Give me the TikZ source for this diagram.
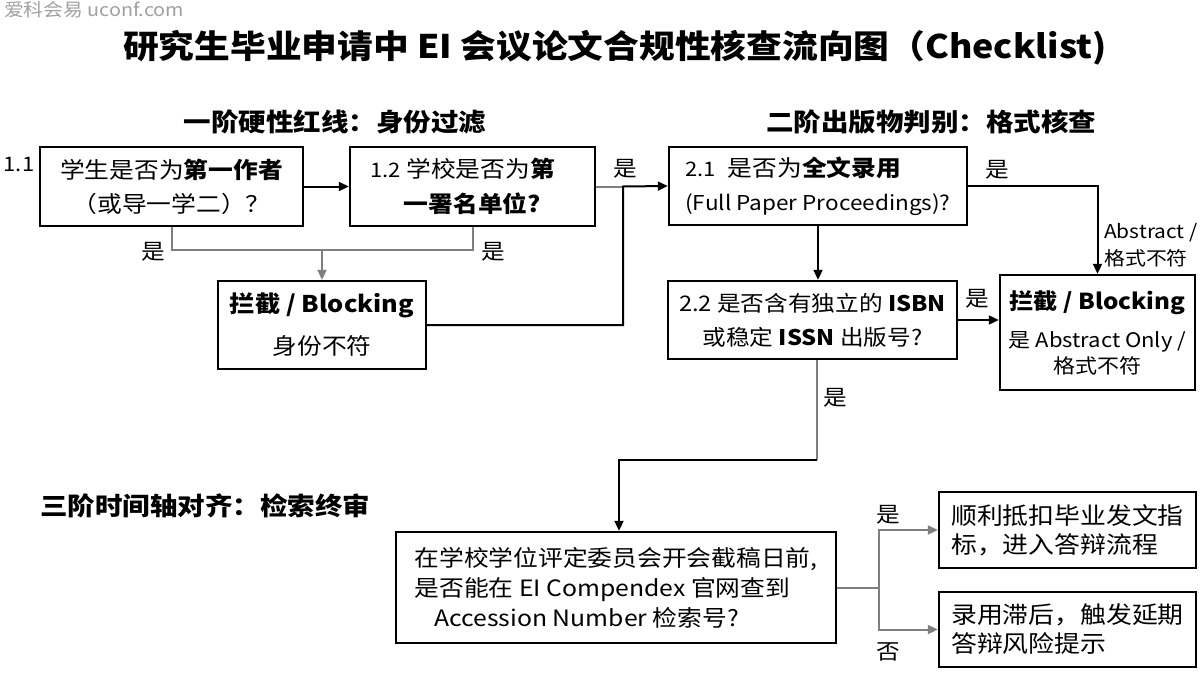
\documentclass[tikz,border=0pt]{standalone}
\usepackage{fontspec}
\setmainfont{Noto Sans CJK SC}[FakeStretch=1.1]
\usetikzlibrary{arrows.meta}
\definecolor{lg}{HTML}{7F7F7F}
\definecolor{wm}{HTML}{A0A0A0}
\newcommand\fsz[2]{\fontsize{#1}{#2}\selectfont}
\tikzset{
  box/.style={draw=black, line width=2.4pt, inner sep=0pt, align=center},
  blk/.style={line width=2pt, draw=black},
  gry/.style={line width=2pt, draw=lg},
  tip/.style={-{Triangle[length=10pt,width=9pt]}},
  lbl/.style={font=\fsz{21.5}{24}, inner sep=0pt},
  head/.style={font=\fsz{25}{28}\bfseries, inner sep=0pt},
}
\begin{document}
\begin{tikzpicture}[x=1pt, y=-1pt]
\fill[white] (0,0) rectangle (1200,680);
\useasboundingbox (0,0) rectangle (1200,680);

% watermark and title
\node[anchor=west, inner sep=0pt, text=wm, font=\fsz{18}{20}] (wmk) at (4,10) {爱科会易 uconf.com};
\node[inner sep=0pt, font=\fsz{32.5}{36}\bfseries] (title) at (615,48) {研究生毕业申请中 EI 会议论文合规性核查流向图（Checklist)};

% headings
\node[head] (h1) at (335,122) {一阶硬性红线：身份过滤};
\node[head] (h2) at (931,122) {二阶出版物判别：格式核查};
\node[head, anchor=west] (h3) at (40,506) {三阶时间轴对齐：检索终审};

% stage 1
\node[lbl, font=\fsz{20}{22}] (n11) at (19,164) {1.1};
\node[box, minimum width=263pt, minimum height=79pt, font=\fsz{22.5}{34}] (b11) at (171.5,186.5)
  {学生是否为\textbf{第一作者}\\（或导一学二）？};
\node[box, minimum width=245pt, minimum height=79pt, font=\fsz{22.5}{35}] (b12) at (472.5,186.5)
  {{\fsz{20}{35}1.2} 学校是否为\textbf{第}\hspace*{20pt}\\\textbf{一署名单位?}};
\node[box, minimum width=208pt, minimum height=88pt, font=\fsz{22.5}{42}] (k1) at (322,325)
  {{\fsz{23}{42}\textbf{拦截 / Blocking}}\\身份不符};

% stage 2
\node[box, minimum width=298pt, minimum height=78pt, font=\fsz{22.5}{34}, align=left] (b21) at (818,186)
  {{\fsz{20}{34}2.1}\hspace{12pt}是否为\textbf{全文录用}\\{\fsz{20.5}{34}(Full Paper Proceedings)?}};
\node[box, minimum width=289pt, minimum height=78pt, font=\fsz{21.5}{34}] (b22) at (812.5,320)
  {2.2 是否含有独立的 \textbf{ISBN}\\或稳定 \textbf{ISSN} 出版号?};
\node[box, minimum width=195pt, minimum height=115pt, font=\fsz{20}{26}] (k2) at (1097.5,332.5)
  {{\fsz{22}{26}\textbf{拦截 / Blocking}}\\[12pt]是 Abstract Only /\\格式不符};

% stage 3
\node[box, minimum width=440pt, minimum height=111pt, font=\fsz{22.5}{30}, align=left] (b3) at (616,587.5)
  {在学校学位评定委员会开会截稿日前,\\是否能在 EI Compendex 官网查到\\\hspace*{20pt}Accession Number 检索号?};
\node[box, minimum width=257pt, minimum height=76pt, font=\fsz{23.5}{29}, align=left] (r1) at (1067.5,530)
  {顺利抵扣毕业发文指\\标，进入答辩流程};
\node[box, minimum width=257pt, minimum height=75pt, font=\fsz{23.5}{29}, align=left] (r2) at (1067.5,629.5)
  {录用滞后，触发延期\\答辩风险提示};

% junctions
\coordinate (jm) at (322,250);
\coordinate (ja) at (623,186.5);
\coordinate (jb) at (817,460);
\coordinate (jc) at (619,460);
\coordinate (jd) at (879,587.5);

% connectors stage 1
\draw[blk, tip] (b11.east) -- (b12.west);
\draw[gry] (b11.south) -- (b11.south |- jm) -- (b12.south |- jm) -- (b12.south);
\draw[gry, tip] (jm) -- (k1.north);
\draw[gry] (b12.east) -- (ja);
\draw[blk, tip] (k1.east) -| (ja) -- (b21.west);

% connectors stage 2
\draw[blk, tip] (b21.east) -| (k2.north);
\draw[blk, tip] (b21.south) -- (b21.south |- b22.north);
\draw[blk, tip] (b22.east) -- (b22.east -| k2.west);
\draw[gry] (b22.south -| jb) -- (jb);
\draw[blk, tip] (jb) -- (jc) -- (jc |- b3.north);

% connectors stage 3
\draw[gry] (b3.east) -- (jd);
\draw[gry, tip] (jd) |- (r1.west);
\draw[gry, tip] (jd) |- (r2.west);

% labels
\node[lbl] (l1) at (153,252) {是};
\node[lbl] (l2) at (493,252) {是};
\node[lbl] (l3) at (625,169) {是};
\node[lbl] (l4) at (997,170) {是};
\node[lbl] (l5) at (977,299) {是};
\node[lbl] (l6) at (835,398) {是};
\node[lbl] (l7) at (888,515) {是};
\node[lbl] (l8) at (888,652) {否};
\node[lbl, anchor=west, align=left, font=\fsz{19}{27}] (l9) at (1104,245) {Abstract /\\格式不符};
\end{tikzpicture}
\end{document}
